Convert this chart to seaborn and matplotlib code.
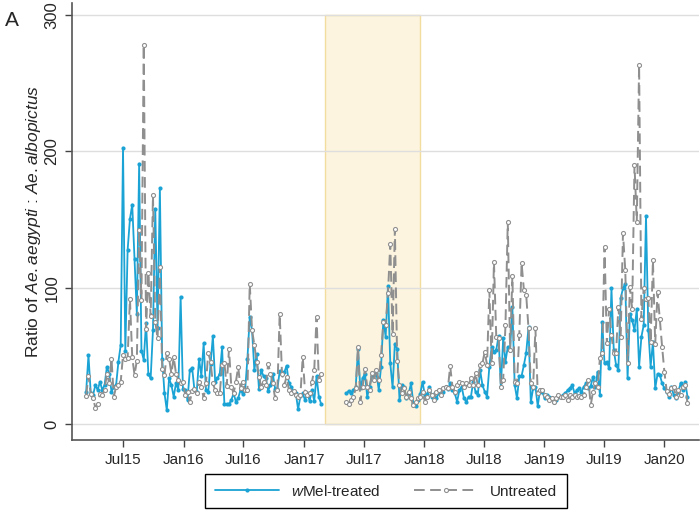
"""Weekly ratio of Ae. aegypti to Ae. albopictus, wMel-treated vs untreated areas"""

import pandas as pd
import matplotlib
matplotlib.use("Agg")
import matplotlib.pyplot as plt
import seaborn as sns

START = "2015-03-11"
GAP_WEEKS = 10

# weekly ratios, before and after the gap in sampling
wmel_before = [
    23.7, 50.6, 22.5, 21.3, 28.6, 25, 31, 25, 28.6, 42, 37, 23.7, 27, 28.6, 45.7, 58, 202.7,
    53.5, 127.6, 150.4, 161, 120.8, 81, 191, 53.8, 47, 74.3, 36.4, 33.5, 69, 158, 70.3, 173,
    48, 22.5, 10.3, 33.5, 28.6, 20, 30, 25, 93.4,
    26, 25, 17.6, 39.6, 41.3, 25, 23.7, 47.7, 35.5, 59.2, 25, 23.7, 44, 64.6, 31, 33.5, 37,
    56.2, 14.6, 14.6, 14.6, 17.6, 22.5, 16.4, 19, 25, 22, 25, 48, 78.3, 69, 39.6, 51.3, 26,
    39.6, 35, 33.5, 24.5, 28.6, 37, 26, 26, 38.6, 36.6, 38, 42.8, 29.8, 27.4, 23.7, 22.5,
    10.8, 20.5, 22.5, 17.6, 22.5, 17, 25, 17, 35, 20, 14.6,
]
wmel_after = [
    22.5, 24.4, 23, 24.9, 27.4, 54.8, 26.2, 33.5, 37, 20, 27.4, 35.3, 36, 37.4, 24.9, 42,
    76.3, 64, 101.2, 44.5, 26.9, 59, 55, 17.6, 28.6, 27.4, 18.8, 22.5, 29.8, 15.2, 13.2,
    17.6, 22, 31, 21.3, 22, 27.4, 20, 22, 18.8, 22.5, 24.9, 23.7, 27.4, 25.5, 29.8, 24.9,
    22.5, 16.4, 24.9, 27.4,
    18.8, 16.4, 20, 20, 31, 23.7, 21.3, 39.6, 28.6, 23.7, 20, 42, 56.7, 53.1, 54.3, 64.5,
    26.9, 62.8, 45.7, 56.7, 54.3, 85.6, 28.6, 18.8, 35.3, 35.3, 43.3, 52.3, 70.9, 15.9,
    26.2, 27.4, 13.2, 24.9, 23.7, 18.8, 21.3, 20, 18.8, 16.4, 17.6, 20, 20, 21.3, 22.5,
    24.9, 26.2, 28.6, 22.5, 24.9, 26.2, 23.7, 27.4, 29.8, 26.2, 27.9, 34.7, 27.4, 38.4,
    21.3, 75,
    44.5, 45.7, 40.8, 99.5, 54.3, 43.3, 39.6, 92.2, 99.5, 103, 33.5, 81, 76, 68.9, 84.5,
    42, 64, 72.6, 152.8, 68.9, 42, 60.4, 26.2, 36.7, 36, 29.8, 26.2, 23.7, 20,
    27.4, 21.3, 18.8, 23.7, 29.8, 24.9, 31, 20,
]
untreated_before = [
    20.8, 35.5, 22, 19, 12, 14.6, 22, 21.3, 25, 37, 30, 47.7, 20, 27.4, 28.6, 31, 50.6,
    48, 48.5, 92, 49, 36, 46.5, 142, 91, 278, 70, 110.5, 79, 168, 75, 62.8, 115, 40.5,
    35.7, 52, 48, 37, 49, 37, 32, 30,
    31, 21.3, 23.7, 16.4, 24, 26, 22.5, 31, 27.4, 19, 29.8, 52.3, 45.7, 29.8, 25, 22.5,
    22.5, 43, 44.5, 28, 55, 27.4, 22.5, 31, 42, 26.2, 31, 25, 25, 103, 69, 58, 45.7, 34.7,
    27.4, 31, 28.6, 44, 37, 29.8, 19, 25, 80.7, 37, 28.6, 34.7, 25, 22.5, 24, 21.3, 20.1,
    21.3, 49.4, 23.7, 21.3, 22.5, 31, 39.6, 78.7, 32, 37,
]
untreated_after = [
    16.4, 14.6, 18, 20, 26.2, 56.7, 16.4, 27.4, 40.5, 27.4, 24.9, 37.4, 32.3, 39.6, 32.3,
    50.6, 75, 73, 96, 132, 66, 142.8, 46.5, 28.6, 22.5, 26.2, 20, 23.7, 18.8, 13.9, 16.4,
    18.8, 20, 23.7, 16.4, 20, 24.9, 21.3, 17.6, 23.7, 24.9, 21.3, 26.2, 27.4, 26.2, 42.5,
    27.4, 23.7, 28.6, 31, 30,
    27.4, 29.8, 28.6, 33.5, 28.6, 37.1, 28.6, 43.3, 44.5, 53.1, 43.3, 98.3, 44.5, 119, 64,
    62.8, 27.4, 32.3, 72.6, 148.4, 54.3, 108.6, 31, 29.8, 65.3, 117.9, 98.3, 94.6, 70.1,
    29.8, 27.4, 70.1, 22.5, 24.9, 24.9, 21.3, 20, 17.6, 18.8, 16.4, 18.8, 21.3, 20, 20,
    21.3, 17.6, 21.3, 20, 21.3, 20, 20.5, 20, 21, 27.4, 32.3, 13.9, 23.7, 29.8, 27.4,
    48.2, 51.9,
    130, 59.2, 84.5, 65, 52, 52, 85.6, 64, 140, 112.9, 44.5, 100.3, 84.5, 190, 148.4,
    263.4, 77.4, 99.5, 92, 92.2, 60, 120, 59, 96.8, 76.7, 56.5, 37.9, 24, 22,
    26.2, 27.4, 20, 24.9, 21.3, 27.4, 28.6, 15.2,
]

tick_dates = ["2015-07-01", "2016-01-01", "2016-07-01", "2017-01-01", "2017-07-01",
              "2018-01-01", "2018-07-01", "2019-01-01", "2019-07-01", "2020-01-01"]
tick_labels = ["Jul15", "Jan16", "Jul16", "Jan17", "Jul17",
               "Jan18", "Jul18", "Jan19", "Jul19", "Jan20"]
y_ticks = [0, 100, 200, 300]
shade_start, shade_end = "2017-03-06", "2017-12-19"

BLUE = "#1aa3d4"
GREY = "#8f8f8f"


def to_frame(before, after):
    n1 = len(before)
    dates = pd.date_range(START, periods=n1 + GAP_WEEKS + len(after), freq="7D")
    return pd.DataFrame({
        "date": list(dates[:n1]) + list(dates[n1 + GAP_WEEKS:]),
        "ratio": before + after,
        "segment": [0] * n1 + [1] * len(after),
    })


wmel_df = to_frame(wmel_before, wmel_after)
untreated_df = to_frame(untreated_before, untreated_after)

sns.set_style("white")
plt.rcParams["font.family"] = ["Liberation Sans", "DejaVu Sans"]
plt.rcParams["mathtext.fontset"] = "custom"
plt.rcParams["mathtext.it"] = "Liberation Sans:italic"
plt.rcParams["mathtext.rm"] = "Liberation Sans"

fig = plt.figure(figsize=(7, 5.13), dpi=100)
ax = fig.add_axes([72 / 700, 73 / 513, 627 / 700, 437 / 513])

# shaded period
ax.fill_between(pd.to_datetime([shade_start, shade_end]), 0, 300,
                facecolor="#fcf4de", edgecolor="#f2dc9e", linewidth=1, zorder=0)

sns.lineplot(data=wmel_df, x="date", y="ratio", units="segment", estimator=None,
             color=BLUE, linewidth=1.3, marker="o", markersize=3.0,
             markeredgecolor=BLUE, markeredgewidth=0, label="$\\it{w}$Mel-treated", ax=ax)
sns.lineplot(data=untreated_df, x="date", y="ratio", units="segment", estimator=None,
             color=GREY, linewidth=1.4, linestyle=(0, (5.5, 2.8)), marker="o", markersize=2.9,
             markerfacecolor="white", markeredgecolor=GREY, markeredgewidth=0.8,
             label="Untreated", ax=ax)

ax.set_xlim(pd.Timestamp("2015-01-27"), pd.Timestamp("2020-04-15"))
ax.set_ylim(-11.7, 308.8)
ax.set_xticks(pd.to_datetime(tick_dates))
ax.set_xticklabels(tick_labels, fontsize=11)
ax.set_yticks(y_ticks)
ax.set_yticklabels([str(t) for t in y_ticks], fontsize=12, rotation=90, va="center")
ax.tick_params(axis="both", direction="out", length=5, width=1, color="#444444", pad=4,
               left=True, bottom=True)
ax.set_xlabel("")
ax.set_ylabel("Ratio of $\\it{Ae.aegypti}$ : $\\it{Ae.albopictus}$", fontsize=12.5, labelpad=1)

ax.yaxis.grid(True, color="#dedede", linewidth=1)
ax.set_axisbelow(True)
for side in ["top", "right"]:
    ax.spines[side].set_visible(False)
for side in ["left", "bottom"]:
    ax.spines[side].set_color("#555555")
    ax.spines[side].set_linewidth(1.2)

handles, labels = ax.get_legend_handles_labels()
unique = dict(zip(labels, handles))
if ax.get_legend():
    ax.get_legend().remove()
fig.legend(list(unique.values()), list(unique.keys()), loc="center",
           bbox_to_anchor=(386 / 700, 1 - 491 / 513), ncol=2, frameon=True, fancybox=False,
           edgecolor="black", framealpha=1, handlelength=4.2, columnspacing=2.2,
           fontsize=11, borderpad=0.6)

fig.text(5 / 700, 1 - 20 / 513, "A", fontsize=15, va="center", ha="left")

fig.savefig("out.png", dpi=100)
